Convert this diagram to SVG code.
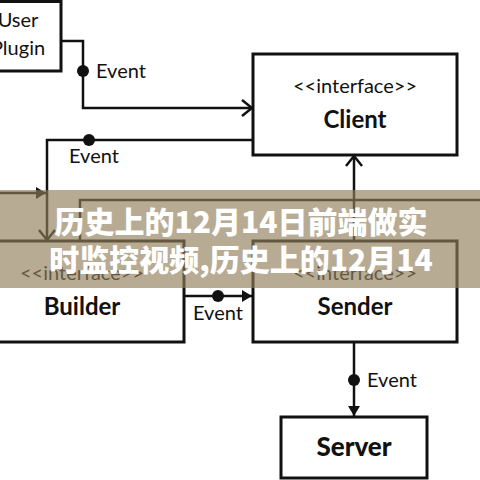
<svg xmlns="http://www.w3.org/2000/svg" width="480" height="480" viewBox="0 0 480 480">
<defs>
<style>
.box{fill:#fff;stroke:#111;stroke-width:3}
.ln{fill:none;stroke:#111;stroke-width:2.5}
.dot{fill:#111}
.lbl{font-family:Lato,"Noto Sans",sans-serif;font-size:20px;fill:#111}
.ster{font-family:Lato,"Noto Sans",sans-serif;font-size:20px;fill:#111;text-anchor:middle}
.name{font-family:Lato,"Noto Sans",sans-serif;font-size:24px;font-weight:bold;fill:#111;text-anchor:middle}
.ban{font-family:"Noto Sans CJK SC",sans-serif;font-size:30px;font-weight:900;fill:#fff;text-anchor:middle}
</style>
<marker id="open" viewBox="0 0 12 18" refX="11" refY="9" markerWidth="12" markerHeight="18" markerUnits="userSpaceOnUse" orient="auto">
<path d="M1,1 L11,9 L1,17" fill="none" stroke="#111" stroke-width="2.5"/>
</marker>
<marker id="fill" viewBox="0 0 10 12" refX="10" refY="6" markerWidth="10" markerHeight="12" markerUnits="userSpaceOnUse" orient="auto">
<path d="M0,0 L10,6 L0,12 Z" fill="#111"/>
</marker>
</defs>
<rect width="480" height="480" fill="#fff"/>
<g id="connectors">
<path class="ln" d="M61,41 H83 V108 H252" marker-end="url(#open)"/>
<circle class="dot" cx="83" cy="71" r="6"/>
<text class="lbl" x="96" y="78">Event</text>
<path class="ln" d="M253,140 H47 V240" marker-end="url(#open)"/>
<circle class="dot" cx="89" cy="140" r="6"/>
<text class="lbl" x="69" y="163">Event</text>
<path class="ln" d="M0,193 H46" marker-end="url(#fill)"/>
<path class="ln" d="M480,200 H80 V241"/>
<path class="ln" d="M354,241 V156" marker-end="url(#open)"/>
<path class="ln" d="M184,296 H252" marker-end="url(#fill)"/>
<circle class="dot" cx="218" cy="296" r="6"/>
<text class="lbl" x="193" y="320">Event</text>
<path class="ln" d="M354,342 V416" marker-end="url(#fill)"/>
<circle class="dot" cx="354" cy="380" r="6"/>
<text class="lbl" x="367" y="387">Event</text>
</g>
<g id="user-plugin">
<rect class="box" x="-30" y="1.5" width="91" height="69.5"/>
<text class="ster" x="18" y="27">User</text>
<text class="ster" x="18" y="55">Plugin</text>
</g>
<g id="client">
<rect class="box" x="253" y="54" width="204" height="101"/>
<text class="ster" x="355" y="93">&lt;&lt;interface&gt;&gt;</text>
<text class="name" x="355" y="128">Client</text>
</g>
<g id="builder">
<rect class="box" x="-20" y="241" width="204" height="101"/>
<text class="ster" x="82" y="280">&lt;&lt;interface&gt;&gt;</text>
<text class="name" x="82" y="315">Builder</text>
</g>
<g id="sender">
<rect class="box" x="253" y="241" width="204" height="101"/>
<text class="ster" x="355" y="280">&lt;&lt;interface&gt;&gt;</text>
<text class="name" x="355" y="315">Sender</text>
</g>
<g id="server">
<rect class="box" x="281" y="417" width="146" height="61"/>
<text class="name" x="354" y="456" style="font-size:26px;font-weight:900">Server</text>
</g>
<g id="banner">
<rect x="0" y="190" width="480" height="98" fill="rgb(145,126,91)" fill-opacity="0.65"/>
<text class="ban" x="241" y="233">历史上的12月14日前端做实</text>
<text class="ban" x="241" y="271">时监控视频,历史上的12月14</text>
</g>
</svg>
